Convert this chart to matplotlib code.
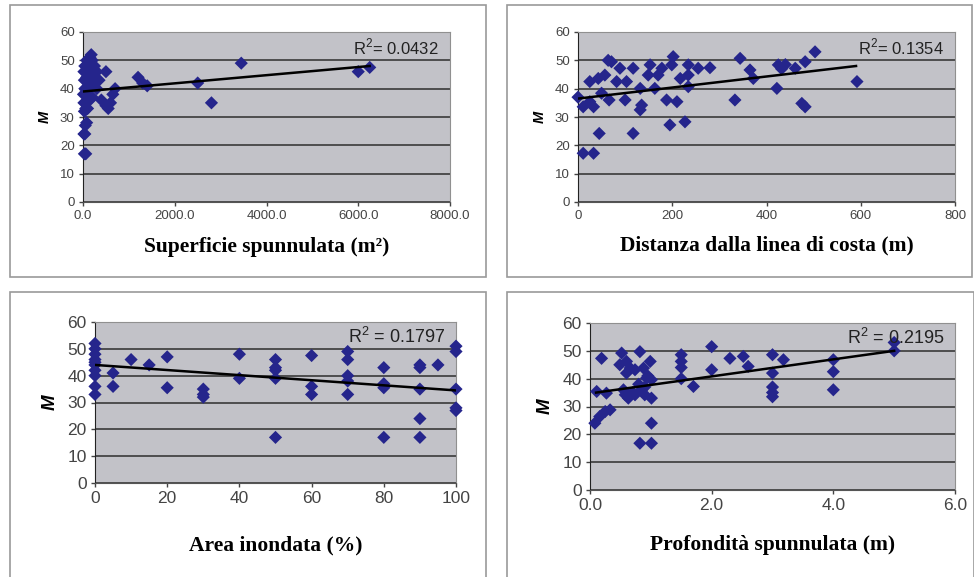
import numpy as np
import matplotlib
matplotlib.use("Agg")
import matplotlib.pyplot as plt
from matplotlib.patches import Rectangle

# --- data ---
sup_x = [30, 60, 20, 40, 50, 80, 30, 60, 100, 20, 50, 150, 10, 100, 200, 40, 120, 250, 30, 80,
         150, 200, 20, 60, 100, 180, 250, 40, 120, 200, 150, 180, 80, 300, 350, 500, 400, 500,
         550, 600, 650, 700, 300, 1200, 1300, 1400, 2500, 2800, 3450, 6000, 6250]
sup_y = [17, 17, 24, 24, 27, 28, 32, 33, 33, 35, 35, 36, 38, 38, 37, 40, 41, 42, 43, 44,
         44, 45, 46, 46, 47, 47, 48, 48, 49, 50, 51, 52, 50, 46, 43, 46, 36, 34,
         33, 35, 38, 40, 40, 44, 42, 41, 42, 35, 49, 46, 47.5]

dist_x = [0, 11, 25, 33, 11, 33, 45, 25, 43, 57, 64, 71, 50, 66, 89, 82, 103, 100, 117, 117,
          132, 135, 132, 153, 149, 170, 178, 163, 188, 210, 195, 227, 202, 199, 217, 234, 234,
          234, 255, 280, 333, 344, 365, 372, 425, 432, 440, 422, 461, 482, 503, 475, 482, 592]
dist_y = [37, 33.6, 35.4, 33.6, 17.2, 17.2, 24.2, 42.5, 43.6, 44.8, 50, 49.5, 38.4, 36, 47.2,
          42.5, 42.5, 36, 47.2, 24.2, 40.1, 34.2, 32.5, 48.4, 44.8, 44.8, 47.2, 40.1, 36, 35.4,
          27.2, 28.3, 51.3, 48.4, 43.6, 48.4, 44.8, 40.7, 47.2, 47.4, 36, 50.7, 46.6, 43.6,
          48.4, 47, 48.5, 40.1, 47.2, 49.5, 53, 34.8, 33.6, 42.5]

area_x = [0, 0, 0, 0, 0, 0, 0, 0, 0, 0, 5, 5, 10, 15, 20, 20, 30, 30, 30, 40, 40,
          50, 50, 50, 50, 50, 60, 60, 60, 70, 70, 70, 70, 70, 80, 80, 80, 80,
          90, 90, 90, 90, 90, 95, 100, 100, 100, 100, 100]
area_y = [33, 36, 40, 42, 44, 45, 46, 48, 50, 52, 41, 36, 46, 44, 47, 35.5, 35, 33, 32, 48, 39,
          46, 43, 42, 39, 17, 47.5, 36, 33, 49, 46, 40, 38, 33, 43, 37, 35.5, 17,
          44, 43, 35, 24, 17, 44, 51, 49, 35, 28, 27]

prof_x = [0.19, 0.11, 0.27, 0.08, 0.16, 0.25, 0.33, 0.52, 0.49, 0.6, 0.66, 0.74, 0.58, 0.63,
          0.74, 0.82, 0.88, 0.99, 0.93, 1.01, 0.85, 0.9, 1.01, 0.82, 1.01, 1.01, 0.55, 0.7,
          0.8, 0.9, 0.6, 0.95, 1.5, 1.5, 1.5, 1.5, 1.7, 2.0, 2.0, 2.3, 2.52, 2.6, 3.0, 3.0,
          3.0, 3.0, 3.0, 3.18, 4.0, 4.0, 4.0, 5.0, 5.0]
prof_y = [47.3, 35.4, 34.8, 24, 26.4, 28.2, 28.8, 49.2, 45, 46.2, 43.8, 43.2, 34.2, 33,
          34.2, 49.7, 43.8, 46.2, 40.2, 39.6, 36, 34.2, 33, 16.8, 16.8, 24, 36, 35,
          38, 37, 42, 41, 48.6, 46.2, 44, 40, 37.2, 51.5, 43.2, 47.3, 48, 44.4, 48.6, 42,
          37, 35, 33.5, 46.8, 46.8, 42.5, 36, 53, 50]

# trend lines as drawn (end points)
trend_sup = ([0, 6250], [39, 48])
trend_dist = ([0, 590], [36.5, 48])
trend_area = ([0, 100], [44, 34.5])
trend_prof = ([0.1, 5.0], [35, 50])

r2_labels = ["R$^{\\mathregular{2}}$= 0.0432", "R$^{\\mathregular{2}}$= 0.1354",
             "R$^{\\mathregular{2}}$ = 0.1797", "R$^{\\mathregular{2}}$ = 0.2195"]
xlabels = ["Superficie spunnulata (m\u00b2)", "Distanza dalla linea di costa (m)",
           "Area inondata (%)", "Profondità spunnulata (m)"]

W, H = 974, 577
fig = plt.figure(figsize=(W / 100, H / 100), dpi=100)

def px(l, t, r, b):
    return [l / W, 1 - b / H, (r - l) / W, (b - t) / H]

# panel frames
for (l, t, r, b) in [(10, 5, 486, 277), (507, 5, 972, 277), (10, 292, 486, 590), (507, 292, 974, 590)]:
    fig.patches.append(Rectangle((l / W, 1 - b / H), (r - l) / W, (b - t) / H,
                                 transform=fig.transFigure, fill=False,
                                 edgecolor="#9a9a9a", lw=1.2))

panels = [
    (px(83, 32, 450, 202), sup_x, sup_y, trend_sup, (0, 8000), np.arange(0, 8001, 2000), "{:.1f}", 9.5, 12, 247),
    (px(578, 32, 955, 202), dist_x, dist_y, trend_dist, (0, 800), np.arange(0, 801, 200), "{:.0f}", 9.5, 12, 245),
    (px(95, 322, 456, 483), area_x, area_y, trend_area, (0, 100), np.arange(0, 101, 20), "{:.0f}", 12.5, 13, 545),
    (px(590, 323, 955, 490), prof_x, prof_y, trend_prof, (0, 6), np.arange(0, 6.1, 2), "{:.1f}", 12.5, 13, 545),
]

for i, (pos, x, y, trend, xlim, xt, fmt, fs, r2fs, xl_y) in enumerate(panels):
    ax = fig.add_axes(pos)
    ax.set_facecolor("#c2c2c8")
    ax.set_xlim(*xlim)
    ax.set_ylim(0, 60)
    ax.set_yticks(range(0, 61, 10))
    ax.set_xticks(xt)
    ax.set_xticklabels([fmt.format(v) for v in xt], fontsize=fs, family="Liberation Sans", color="#333333")
    ax.set_yticklabels([str(v) for v in range(0, 61, 10)], fontsize=fs, family="Liberation Sans", color="#333333")
    ax.yaxis.grid(True, color="#3a3a3a", lw=1.2)
    ax.set_axisbelow(True)
    for s in ["top", "right"]:
        ax.spines[s].set_color("#909090")
    ax.spines["left"].set_color("#222222")
    ax.spines["bottom"].set_color("#555555")
    ax.tick_params(length=3, width=1, colors="#444444", pad=3)
    ax.scatter(x, y, marker="D", s=45, color="#25258c", edgecolors="none", zorder=3, clip_on=False)
    ax.plot(trend[0], trend[1], color="black", lw=1.8, zorder=4)
    ax.text(0.97, 0.91, r2_labels[i], transform=ax.transAxes, ha="right", va="center",
            fontsize=r2fs, family="Liberation Sans", color="#222222", zorder=5)
    ax.set_ylabel("M", fontsize=fs + 1, fontweight="bold", style="italic",
                  family="Liberation Sans", labelpad=6)
    fig.text((pos[0] + pos[2] / 2), 1 - xl_y / H, xlabels[i], ha="center", va="center",
             fontsize=15.5, fontweight="bold", family="Liberation Serif")

fig.savefig("out.png", dpi=100)
